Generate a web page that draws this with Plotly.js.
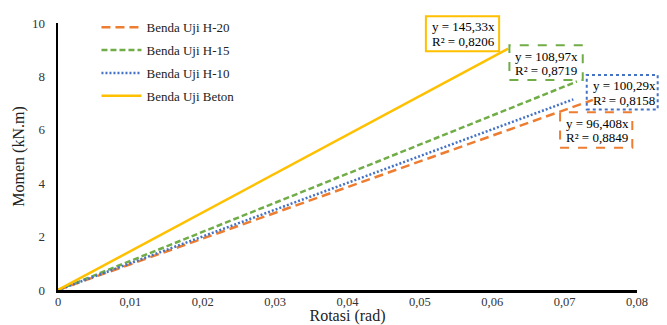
<!DOCTYPE html>
<html>
<head>
<meta charset="utf-8">
<script src="https://cdn.plot.ly/plotly-3.0.1.min.js"></script>
<style>html,body{margin:0;padding:0;background:#fff;}#chart{width:667px;height:325px;}</style>
</head>
<body>
<div id="chart"></div>
<script>
// ---- data ----
const seriesNames = ['Benda Uji H-20', 'Benda Uji H-15', 'Benda Uji H-10', 'Benda Uji Beton'];
const rotasiH20 = [0, 0.0739];
const momenH20 = [0, 7.12];
const rotasiH15 = [0, 0.0717];
const momenH15 = [0, 7.81];
const rotasiH10 = [0, 0.0712];
const momenH10 = [0, 7.14];
const rotasiBeton = [0, 0.0622];
const momenBeton = [0, 9.04];
const eqLines = ['y = 96,408x', 'y = 108,97x', 'y = 100,29x', 'y = 145,33x'];
const r2Lines = ['R² = 0,8849', 'R² = 0,8719', 'R² = 0,8158', 'R² = 0,8206'];
const xTickVals = [0, 0.01, 0.02, 0.03, 0.04, 0.05, 0.06, 0.07, 0.08];
const xTickText = ['0', '0,01', '0,02', '0,03', '0,04', '0,05', '0,06', '0,07', '0,08'];
const yTickVals = [0, 2, 4, 6, 8, 10];

// ---- styling ----
const colors = ['#ED7D31', '#70AD47', '#4472C4', '#FFC000'];
const dashes = ['9px,5px', '6px,3px', '2px,2px', 'solid'];
const serif = 'Liberation Serif, Times New Roman, serif';

const W = 667, H = 325;
const M = {l: 57.5, r: 30, t: 18, b: 35};
const pw = W - M.l - M.r, ph = H - M.t - M.b;
const px = x => (x - M.l) / pw;
const py = y => (H - M.b - y) / ph;

// box pixel positions [x0, x1, y0, y1] per series
const boxes = [
  [560, 632.3, 109, 145],
  [509.3, 582.7, 40.7, 76],
  [586.7, 657.7, 71, 106],
  [425.7, 499, 11, 46.7]
];
const boxDash = ['dash', 'dash', 'dot', 'solid'];

const xs = [rotasiH20, rotasiH15, rotasiH10, rotasiBeton];
const ys = [momenH20, momenH15, momenH10, momenBeton];

const traces = seriesNames.map((n, i) => ({
  x: xs[i], y: ys[i], type: 'scatter', mode: 'lines', name: n,
  legendgroup: 'g' + i,
  line: {color: colors[i], width: 2.5, dash: dashes[i]},
  hoverinfo: 'skip'
}));

const shapes = [];
const annotations = [];
boxes.forEach((b, i) => {
  shapes.push({
    type: 'rect', xref: 'paper', yref: 'paper',
    x0: px(b[0]), x1: px(b[1]), y0: py(b[3]), y1: py(b[2]),
    line: {color: colors[i], width: 2, dash: boxDash[i]},
    fillcolor: 'rgba(0,0,0,0)'
  });
  annotations.push({
    xref: 'paper', yref: 'paper', x: px(b[0] + 4), y: py(b[2] + 11),
    xanchor: 'left', yanchor: 'middle', showarrow: false,
    text: eqLines[i], font: {family: serif, size: 13, color: '#000'}
  });
  annotations.push({
    xref: 'paper', yref: 'paper', x: px(b[0] + 4), y: py(b[2] + 25.5),
    xanchor: 'left', yanchor: 'middle', showarrow: false,
    text: r2Lines[i], font: {family: serif, size: 13, color: '#000'}
  });
});

const layout = {
  width: W, height: H,
  margin: M,
  paper_bgcolor: '#fff', plot_bgcolor: '#fff',
  separators: ',.',
  showlegend: true,
  legend: {
    x: px(96), y: py(7), xanchor: 'left', yanchor: 'top',
    bgcolor: 'rgba(0,0,0,0)', font: {family: serif, size: 13, color: '#222'},
    traceorder: 'grouped', tracegroupgap: 3, itemwidth: 40
  },
  xaxis: {
    range: [0, 0.08], tickvals: xTickVals, ticktext: xTickText,
    showgrid: false, zeroline: false, showline: true, linecolor: '#000', linewidth: 2.5,
    ticks: '', ticklabelstandoff: -2,
    tickfont: {family: serif, size: 12.5, color: '#333'},
    title: {text: 'Rotasi (rad)', font: {family: serif, size: 16, color: '#222'}, standoff: 3},
    fixedrange: true
  },
  yaxis: {
    range: [0, 10], tickvals: yTickVals,
    showgrid: false, zeroline: false, showline: true, linecolor: '#000', linewidth: 2.5,
    ticks: '', ticklabelstandoff: 8,
    tickfont: {family: serif, size: 13, color: '#333'},
    title: {text: 'Momen (kN.m)', font: {family: serif, size: 16, color: '#222'}, standoff: 4},
    fixedrange: true
  },
  shapes: shapes,
  annotations: annotations
};

Plotly.newPlot('chart', traces, layout, {displayModeBar: false, staticPlot: true});
</script>
</body>
</html>
